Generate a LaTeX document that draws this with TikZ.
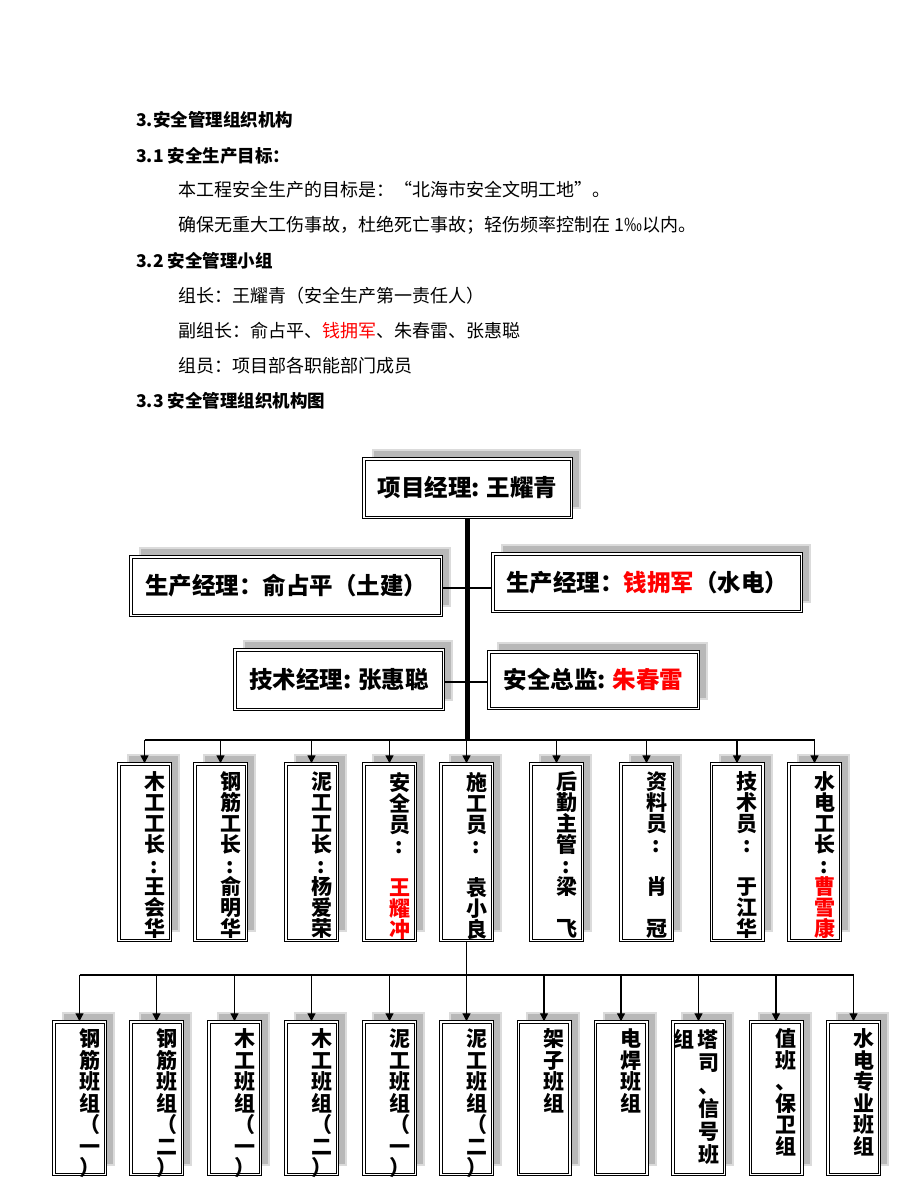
\documentclass[tikz,border=0pt]{standalone}
\usepackage{fontspec}
\setmainfont{Noto Sans CJK SC}
\usetikzlibrary{positioning, shadows, arrows.meta}

% stacked characters for the tall boxes
\newcommand{\crewtext}[2][21pt]{\hspace*{20pt}\parbox[c][172pt][t]{21pt}{\centering\fontsize{21pt}{#1}\selectfont\vspace*{6pt}#2}}
\newcommand{\teamtext}[2][21.5pt]{\hspace*{20pt}\parbox[c][150pt][t]{21pt}{\centering\fontsize{21pt}{#1}\selectfont\vspace*{6pt}#2}}

\begin{document}
\begin{tikzpicture}[x=1pt, y=-1pt]
    \tikzstyle{head} = [anchor=west, inner sep=0pt, font=\bfseries\fontsize{17.5pt}{20pt}\selectfont]
    \tikzstyle{body} = [anchor=west, inner sep=0pt, font=\fontsize{18pt}{20pt}\selectfont]
    \tikzstyle{box} = [rectangle, draw, line width=1pt, double=white, double distance=1.5pt, fill=white,
        inner sep=0pt, general shadow={shadow xshift=9pt, shadow yshift=9pt, fill=black!28, draw=black!14, line width=2pt}]
    \tikzstyle{mgr} = [box, font=\bfseries\fontsize{23.5pt}{26pt}\selectfont]
    \tikzstyle{crew} = [box, minimum width=51.5pt, minimum height=176.5pt, font=\bfseries]
    \tikzstyle{team} = [box, minimum width=51.5pt, minimum height=152.5pt, font=\bfseries]
    \tikzstyle{trunk} = [draw, line width=4.5pt]
    \tikzstyle{link} = [draw, line width=2pt]
    \tikzstyle{line} = [draw, -{Triangle[length=8pt, width=8pt]}, line width=1.5pt]
    \tikzstyle{thin} = [draw, -{Triangle[length=8pt, width=8pt]}, line width=1.2pt]

    \useasboundingbox (0,0) rectangle (920,1191);

    % text above the chart
    \node [head] (h1) at (136,120) {3.安全管理组织机构};
    \node [head] (h2) at (136,156) {3.1 安全生产目标：};
    \node [body] (p1) at (178,190) {本工程安全生产的目标是：“北海市安全文明工地”。};
    \node [body] (p2) at (178,225) {确保无重大工伤事故，杜绝死亡事故；轻伤频率控制在 1‰以内。};
    \node [head] (h3) at (136,261) {3.2 安全管理小组};
    \node [body] (p3) at (178,296) {组长：王耀青（安全生产第一责任人）};
    \node [body] (p4) at (178,331) {副组长：俞占平、\textcolor{red}{钱拥军}、朱春雷、张惠聪};
    \node [body] (p5) at (178,366) {组员：项目部各职能部门成员};
    \node [head] (h4) at (136,401) {3.3 安全管理组织机构图};

    % managers
    \node [mgr, minimum width=207.5pt, minimum height=58.5pt] (pm) at (467.5,488) {项目经理: 王耀青};
    \node [mgr, minimum width=310.5pt, minimum height=58.5pt] (cm) at (286,586) {生产经理：俞占平（土建）};
    \node [mgr, minimum width=308.5pt, minimum height=57.5pt] (em) at (647,582.5) {生产经理：\textcolor{red}{钱拥军}（水电）};
    \node [mgr, minimum width=208.5pt, minimum height=59.5pt] (tm) at (339,679.5) {技术经理: 张惠聪};
    \node [mgr, minimum width=209.5pt, minimum height=56.5pt] (sm) at (593.5,680) {安全总监: \textcolor{red}{朱春雷}};

    % foremen and staff
    \node [crew] (c1) at (144.5,852) {\crewtext{木\\工\\工\\长\\:\\王\\会\\华}};
    \node [crew] (c2) at (220.5,852) {\crewtext{钢\\筋\\工\\长\\:\\俞\\明\\华}};
    \node [crew] (c3) at (311.5,852) {\crewtext{泥\\工\\工\\长\\:\\杨\\爱\\荣}};
    \node [crew] (c4) at (389.5,852) {\crewtext{安\\全\\员\\:\\[21pt]{\color{red}王\\耀\\冲}}};
    \node [crew] (c5) at (466.5,852) {\crewtext{施\\工\\员\\:\\[21pt]袁\\小\\良}};
    \node [crew] (c6) at (556.5,852) {\crewtext{后\\勤\\主\\管\\:\\梁\\[21pt]飞}};
    \node [crew] (c7) at (646.5,852) {\crewtext{资\\料\\员\\:\\[21pt]肖\\[21pt]冠}};
    \node [crew] (c8) at (737,852) {\crewtext{技\\术\\员\\:\\[21pt]于\\江\\华}};
    \node [crew] (c9) at (814.5,852) {\crewtext{水\\电\\工\\长\\:\\{\color{red}曹\\雪\\康}}};

    % work teams
    \node [team] (t1) at (79.5,1098) {\teamtext{钢\\筋\\班\\组\\（\\一\\）}};
    \node [team] (t2) at (156.5,1098) {\teamtext{钢\\筋\\班\\组\\（\\二\\）}};
    \node [team] (t3) at (234.5,1098) {\teamtext{木\\工\\班\\组\\（\\一\\）}};
    \node [team] (t4) at (311.5,1098) {\teamtext{木\\工\\班\\组\\（\\二\\）}};
    \node [team] (t5) at (389.5,1098) {\teamtext{泥\\工\\班\\组\\（\\一\\）}};
    \node [team] (t6) at (466.5,1098) {\teamtext{泥\\工\\班\\组\\（\\二\\）}};
    \node [team] (t7) at (544,1098) {\teamtext{架\\子\\班\\组}};
    \node [team] (t8) at (621,1098) {\teamtext{电\\焊\\班\\组}};
    \node [team] (t9) at (698.5,1098) {\teamtext[23pt]{\leavevmode\llap{组\hspace{4pt}}塔\\司\\、\\信\\号\\班}};
    \node [team] (t10) at (776,1098) {\teamtext{值\\班\\、\\保\\卫\\组}};
    \node [team] (t11) at (853.5,1098) {\teamtext{水\\电\\专\\业\\班\\组}};

    \coordinate (bus1) at (467,740);
    \coordinate (bus2) at (467,975);

    % connectors
    \path [trunk] (pm.south) -- (pm.south |- bus1);
    \path [link] ([yshift=-2pt]cm.east) -- ([yshift=-2pt]cm.east -| em.west);
    \path [link] ([yshift=-2.5pt]tm.east) -- ([yshift=-2.5pt]tm.east -| sm.west);
    \path [link] (c1.north |- bus1) -- (c9.north |- bus1);
    \path [line] (c1.north |- bus1) -- (c1.north);
    \path [line] (c2.north |- bus1) -- (c2.north);
    \path [line] (c3.north |- bus1) -- (c3.north);
    \path [line] (c4.north |- bus1) -- (c4.north);
    \path [line] (c5.north |- bus1) -- (c5.north);
    \path [line] (c6.north |- bus1) -- (c6.north);
    \path [line] (c7.north |- bus1) -- (c7.north);
    \path [line] (c8.north |- bus1) -- (c8.north);
    \path [line] (c9.north |- bus1) -- (c9.north);

    \path [draw, line width=1.3pt] (t1.north |- bus2) -- (t11.north |- bus2);
    \path [thin] (c5.south) -- (t6.north);
    \path [thin] (t1.north |- bus2) -- (t1.north);
    \path [thin] (t2.north |- bus2) -- (t2.north);
    \path [thin] (t3.north |- bus2) -- (t3.north);
    \path [thin] (t4.north |- bus2) -- (t4.north);
    \path [thin] (t5.north |- bus2) -- (t5.north);
    \path [thin] (t7.north |- bus2) -- (t7.north);
    \path [thin] (t8.north |- bus2) -- (t8.north);
    \path [thin] (t9.north |- bus2) -- (t9.north);
    \path [thin] (t10.north |- bus2) -- (t10.north);
    \path [thin] (t11.north |- bus2) -- (t11.north);
\end{tikzpicture}
\end{document}
